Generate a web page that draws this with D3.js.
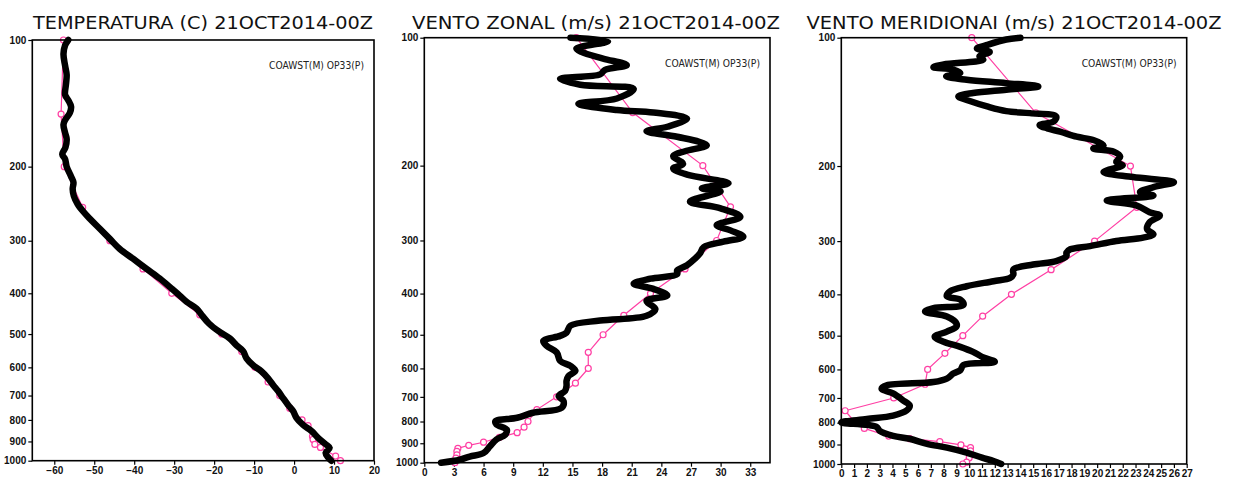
<!DOCTYPE html>
<html><head><meta charset="utf-8">
<script src="https://cdn.jsdelivr.net/npm/d3@7"></script>
<style>body{margin:0;background:#fff}svg{display:block}</style>
</head><body><svg id="c" width="1240" height="483"></svg>
<script>
// ---------- DATA ----------
const pressureTicks = [100,200,300,400,500,600,700,800,900,1000];
const legendLabel = "COAWST(M) OP33(P)";

// Temperature (C)
const tempModelP = [100,103,108,115,121,128,135,139,144,149,155,159,166,172,180,187,192,200,211,218,226,235,245,256,266,281,297,314,331,350,369,390,405,419,435,452,472,493,512,532,549,571,593,613,637,661,683,710,737,762,791,822,850,882,917,932,958,984,1000];
const tempModelV = [-56.5,-57.3,-57.7,-57.3,-56.9,-57.1,-57.3,-56.5,-55.8,-56.1,-57.3,-57.7,-57.3,-56.9,-57.2,-58.0,-57.3,-56.9,-55.8,-55.2,-55.4,-55.1,-54.2,-52.7,-51.1,-48.6,-46.1,-43.6,-40.3,-36.9,-33.6,-30.6,-28.6,-26.9,-24.4,-23.0,-21.3,-18.8,-16.1,-14.4,-12.75,-11.9,-10.25,-8.2,-6.5,-5.25,-4.0,-2.75,-1.5,-0.25,0.6,2.25,4.35,6.0,8.1,8.9,7.9,8.6,9.3];
const tempObsP = [100,150,200,250,300,350,400,450,500,550,600,650,700,750,800,825,875,890,915,930,975,1000];
const tempObsV = [-57.7,-58.3,-57.5,-52.9,-46.1,-37.8,-30.6,-23.6,-18.1,-13.1,-9.8,-6.5,-3.6,-1.1,2.0,3.5,4.6,4.75,5.2,6.6,10.4,11.6];
const tempTicks = [-60,-50,-40,-30,-20,-10,0,10,20];

// Zonal wind (m/s)
const uModelP = [100,102,106,108,112,116,119,122,125,129,132,139,143,148,150,155,162,166,171,179,185,190,198,203,210,220,226,230,243,252,264,276,284,294,302,311,322,331,343,353,360,369,379,390,404,416,435,451,463,476,494,503,517,531,550,576,592,608,625,642,660,678,697,716,743,763,784,799,813,836,859,882,915,949,967,984,1000];
const uModelV = [14.8,18.6,15.4,15.9,18.1,20.5,18.3,17.8,13.75,15.8,21.2,19.5,15.6,19.5,23.2,26.6,24.6,22.5,25.6,28.6,26.4,25.2,26.2,25.2,26.6,30.8,28.1,30.0,26.9,30.0,32.0,29.6,31.0,32.3,30.3,28.3,27.9,27.4,26.6,25.6,25.6,22.9,21.2,23.2,24.6,22.5,23.4,22.5,17.8,14.8,14.4,13.75,12.05,12.4,13.4,13.75,14.8,15.3,14.6,14.4,14.4,14.25,13.6,14.1,13.9,11.0,9.4,7.2,7.3,8.35,8.2,7.3,6.65,6.0,4.6,3.6,1.7];
const uObsP = [100,150,200,250,300,350,400,450,500,550,600,650,700,750,800,825,850,872,895,910,925,940,958,975,1000];
const uObsV = [15.4,21.1,28.2,31.0,29.6,26.4,22.9,20.2,18.1,16.6,16.6,15.3,13.4,11.4,10.5,10.1,9.4,7.6,6.0,4.5,3.4,3.3,3.3,3.2,3.1];
const uTicks = [0,3,6,9,12,15,18,21,24,27,30,33];

// Meridional wind (m/s)
const vModelP = [100,101,104,106,108,110.5,112.5,115.6,117.3,118.8,121,123.2,125.5,127.8,130.1,132.4,134.8,137.3,141,145,148.7,150.3,153,157.3,160.3,163.2,166.1,170.7,173.8,178.7,181.9,185.2,190.2,195.6,199.2,206.6,212.3,218.3,224.1,230.3,234.6,241,247.6,256.6,261.4,271,281.2,289.1,294.4,299.8,308.2,313.6,319.4,325.3,334.2,340.5,349.7,359.4,365.9,372.6,382.8,393.6,404.4,411.7,423.1,430.9,439,451,467.9,476.2,489.2,502.8,516.7,531,545.6,560.6,576.1,586,602.7,613.6,630.6,642.4,654,666,683.2,709.7,729.4,749.4,770,784.3,798.8,818,835.7,858.8,872.6,897,915.2,940.4,966.5,984,1000];
const vModelV = [14.0,12.9,11.4,10.6,11.6,10.8,11.1,8.0,7.2,8.75,9.3,8.2,9.8,12.9,15.4,12.9,10.3,9.15,10.1,11.4,12.9,14.75,16.8,16.6,15.5,16.1,17.1,18.4,19.7,20.5,19.7,21.3,21.8,21.5,22.0,20.5,22.8,26.0,24.4,23.35,24.4,20.75,23.1,24.1,24.9,24.1,23.9,24.4,23.6,21.5,19.45,17.9,17.6,17.6,16.8,15.0,13.45,13.45,13.2,11.9,9.8,8.5,8.25,9.3,9.55,7.2,6.55,8.25,9.0,9.0,8.25,7.3,8.0,9.3,10.3,11.0,12.0,9.55,9.3,8.75,8.25,7.2,3.55,3.15,4.05,4.85,5.35,5.1,4.05,2.0,0,2.75,3.0,4.05,5.35,6.7,8.25,9.8,11.0,11.9,12.5];
const vObsP = [100,150,200,250,300,350,400,450,500,550,600,650,700,750,800,825,860,872,886,902,915,932,967,990,1000];
const vObsV = [10.2,15.2,22.6,23.1,19.8,16.4,13.3,11.05,9.5,8.1,6.75,6.55,4.1,0.3,1.1,1.8,3.7,5.35,7.7,9.35,10.1,10.1,10.0,9.8,9.5];
const vTicks = d3.range(0,28);

// ---------- LAYOUT ----------
const panels = [
  {title:"TEMPERATURA (C) 21OCT2014-00Z", mP:tempModelP, mV:tempModelV, oP:tempObsP, oV:tempObsV, ticks:tempTicks,
   xDomain:[-65.5,20], left:32.3, right:374, top:40, bottom:460.7, titleX:203, titleW:340},
  {title:"VENTO ZONAL (m/s) 21OCT2014-00Z", mP:uModelP, mV:uModelV, oP:uObsP, oV:uObsV, ticks:uTicks,
   xDomain:[0,35], left:424.3, right:770, top:37.7, bottom:462.7, titleX:596, titleW:368},
  {title:"VENTO MERIDIONAI (m/s) 21OCT2014-00Z", mP:vModelP, mV:vModelV, oP:vObsP, oV:vObsV, ticks:vTicks,
   xDomain:[0,27], left:841.3, right:1186.7, top:37.7, bottom:464, titleX:1014, titleW:415}
];

const svg = d3.select("#c");
svg.append("rect").attr("width",1240).attr("height",483).attr("fill","#fff");
const pink = "#ff3fa4";
const fmt = d3.format("d");

panels.forEach(pn => {
  const g = svg.append("g");
  const x = d3.scaleLinear().domain(pn.xDomain).range([pn.left, pn.right]);
  const y = d3.scaleLog().domain([100,1000]).range([pn.top, pn.bottom]);

  // title
  g.append("text").attr("x", pn.titleX).attr("y", 28.5)
    .attr("text-anchor","middle")
    .attr("font-family","'DejaVu Sans', 'Liberation Sans', sans-serif")
    .attr("font-size", 18.5)
    .attr("textLength", pn.titleW).attr("lengthAdjust","spacingAndGlyphs")
    .attr("fill","#111")
    .text(pn.title);

  // axes
  const ya = g.append("g").attr("transform",`translate(${pn.left},0)`)
    .call(d3.axisLeft(y).tickValues(pressureTicks).tickFormat(fmt).tickSize(4).tickPadding(2));
  const xa = g.append("g").attr("transform",`translate(0,${pn.bottom})`)
    .call(d3.axisBottom(x).tickValues(pn.ticks).tickFormat(fmt).tickSize(4).tickPadding(2));
  [ya, xa].forEach(a => {
    a.select(".domain").remove();
    a.selectAll("line").attr("stroke","#000").attr("stroke-width",1.2);
    a.selectAll("text").attr("font-family","'Liberation Sans', Arial, sans-serif")
      .attr("font-weight","bold").attr("font-size",10).attr("fill","#111");
  });

  // observations (pink)
  const obs = pn.oP.map((p,i)=>({p, v:pn.oV[i]}));
  const model = pn.mP.map((p,i)=>({p, v:pn.mV[i]}));
  g.append("path").datum(obs)
    .attr("d", d3.line().x(d=>x(d.v)).y(d=>y(d.p)))
    .attr("fill","none").attr("stroke",pink).attr("stroke-width",1.2);
  g.selectAll("circle.obs").data(obs).enter().append("circle")
    .attr("class","obs").attr("cx",d=>x(d.v)).attr("cy",d=>y(d.p)).attr("r",3)
    .attr("fill","#fff").attr("stroke",pink).attr("stroke-width",1.2);

  // model (black, thick)
  g.append("path").datum(model)
    .attr("d", d3.line().x(d=>x(d.v)).y(d=>y(d.p)).curve(d3.curveCatmullRom.alpha(0.5)))
    .attr("fill","none").attr("stroke","#000").attr("stroke-width",6.5)
    .attr("stroke-linejoin","round").attr("stroke-linecap","round");

  // frame
  g.append("rect").attr("x",pn.left).attr("y",pn.top)
    .attr("width",pn.right-pn.left).attr("height",pn.bottom-pn.top)
    .attr("fill","none").attr("stroke","#000").attr("stroke-width",1.6);

  // legend label
  g.append("text").attr("x", pn.right-10).attr("y", pn.top + 29)
    .attr("text-anchor","end")
    .attr("font-family","'DejaVu Sans', 'Liberation Sans', sans-serif")
    .attr("font-size", 10.5)
    .attr("textLength", 95).attr("lengthAdjust","spacingAndGlyphs")
    .attr("fill","#222")
    .text(legendLabel);
});
</script>
</body></html>
